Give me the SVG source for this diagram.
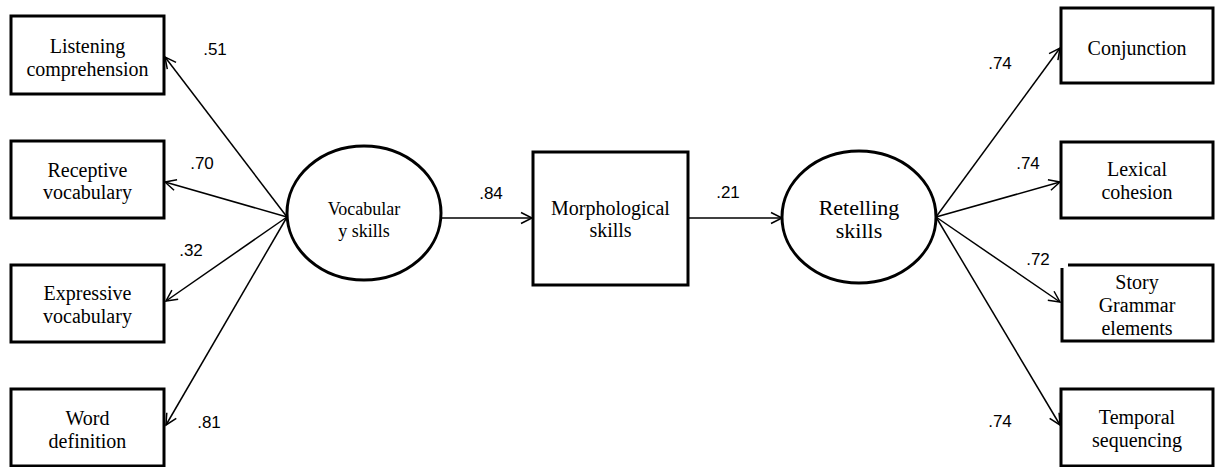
<svg xmlns="http://www.w3.org/2000/svg" width="1215" height="467" viewBox="0 0 1215 467">
<style>
.box{fill:#fff;stroke:#000;stroke-width:3}
.ell{fill:#fff;stroke:#000;stroke-width:3}
.t{font-family:"Liberation Serif","Times New Roman",serif;font-size:20px;fill:#000;text-anchor:middle}
.n{font-family:"Liberation Sans",Arial,sans-serif;font-size:17px;fill:#000;text-anchor:middle}
.c{stroke:#000;stroke-width:1.5;fill:none;marker-end:url(#ah)}
</style>
<defs>
<marker id="ah" markerUnits="userSpaceOnUse" markerWidth="14" markerHeight="14" refX="12" refY="6" orient="auto" viewBox="0 0 14 12">
<path d="M1,0.5 L12,6 L1,11.5" fill="none" stroke="#000" stroke-width="1.5"/>
</marker>
</defs>
<rect width="1215" height="467" fill="#fff"/>
<g id="connectors">
<line class="c" x1="287" y1="217" x2="165" y2="57"/>
<line class="c" x1="287" y1="217" x2="165" y2="182"/>
<line class="c" x1="287" y1="217" x2="166" y2="301"/>
<line class="c" x1="287" y1="217" x2="166" y2="425"/>
<line class="c" x1="441" y1="218" x2="532" y2="218"/>
<line class="c" x1="688" y1="218" x2="782" y2="218"/>
<line class="c" x1="936" y1="217" x2="1060" y2="48"/>
<line class="c" x1="936" y1="217" x2="1060" y2="182"/>
<line class="c" x1="936" y1="217" x2="1060" y2="302"/>
<line class="c" x1="936" y1="217" x2="1060" y2="425"/>
<text class="n" x="215" y="55">.51</text>
<text class="n" x="202" y="169">.70</text>
<text class="n" x="191" y="256">.32</text>
<text class="n" x="209" y="428">.81</text>
<text class="n" x="491" y="199">.84</text>
<text class="n" x="728" y="198">.21</text>
<text class="n" x="1000" y="69">.74</text>
<text class="n" x="1028" y="169">.74</text>
<text class="n" x="1038" y="265">.72</text>
<text class="n" x="1000" y="427">.74</text>
</g>
<g id="listening">
<rect class="box" x="11" y="16" width="153" height="78"/>
<text class="t" x="87.5" y="53">Listening</text>
<text class="t" x="87.5" y="76">comprehension</text>
</g>
<g id="receptive">
<rect class="box" x="11" y="141" width="153" height="77"/>
<text class="t" x="87.5" y="177">Receptive</text>
<text class="t" x="87.5" y="199">vocabulary</text>
</g>
<g id="expressive">
<rect class="box" x="11" y="265" width="153" height="77"/>
<text class="t" x="87.5" y="300">Expressive</text>
<text class="t" x="87.5" y="323">vocabulary</text>
</g>
<g id="word">
<rect class="box" x="11" y="389" width="153" height="77"/>
<text class="t" x="87.5" y="425">Word</text>
<text class="t" x="87.5" y="448">definition</text>
</g>
<g id="vocab">
<ellipse class="ell" cx="364" cy="213" rx="77" ry="67"/>
<text class="t" x="364" y="215" style="font-size:18px">Vocabular</text>
<text class="t" x="364" y="237" style="font-size:18px">y skills</text>
</g>
<g id="morph">
<rect class="box" x="533" y="152" width="155" height="133"/>
<text class="t" x="610.5" y="215">Morphological</text>
<text class="t" x="610.5" y="237">skills</text>
</g>
<g id="retelling">
<ellipse class="ell" cx="859" cy="217" rx="77" ry="66"/>
<text class="t" x="859" y="215" style="font-size:22px">Retelling</text>
<text class="t" x="859" y="238" style="font-size:22px">skills</text>
</g>
<g id="conjunction">
<rect class="box" x="1061" y="8" width="152" height="75"/>
<text class="t" x="1137" y="55">Conjunction</text>
</g>
<g id="lexical">
<rect class="box" x="1061" y="142" width="152" height="76"/>
<text class="t" x="1137" y="176">Lexical</text>
<text class="t" x="1137" y="199">cohesion</text>
</g>
<g id="story">
<path class="box" d="M1068,265 L1213,265 L1213,341 L1062,341 L1062,268"/>
<text class="t" x="1137" y="289">Story</text>
<text class="t" x="1137" y="312">Grammar</text>
<text class="t" x="1137" y="335">elements</text>
</g>
<g id="temporal">
<rect class="box" x="1061" y="389" width="152" height="77"/>
<text class="t" x="1137" y="424">Temporal</text>
<text class="t" x="1137" y="447">sequencing</text>
</g>
</svg>
